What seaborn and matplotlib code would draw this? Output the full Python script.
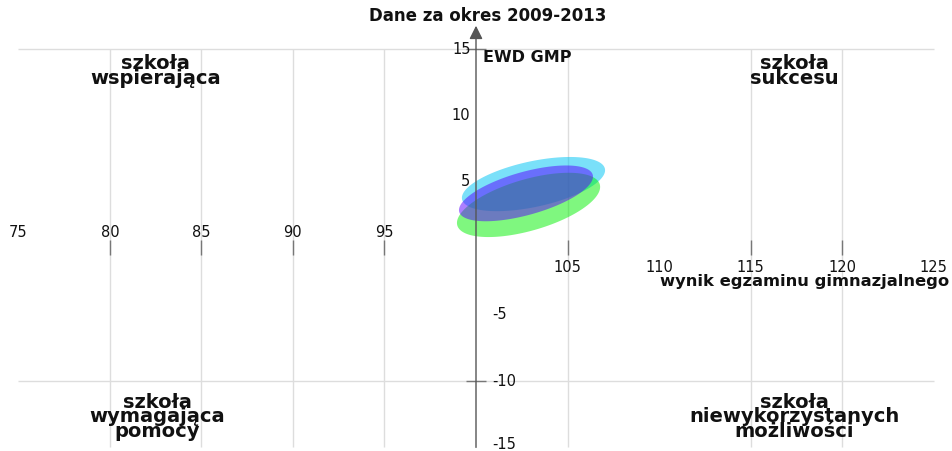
import seaborn as sns
import matplotlib.pyplot as plt
import numpy as np

sns.set_theme(style="white")
plt.rcParams['font.family'] = ['DejaVu Sans']

# axis ticks / labels
x_labels_left = [75, 80, 85, 90, 95]
x_labels_right = [105, 110, 115, 120, 125]
y_labels_pos = [5, 10, 15]
y_labels_neg = [-5, -10, -15]
grid_x = [80, 85, 90, 95, 105, 115, 120]
grid_y = [15, -10]

# ellipses: center, half-width (x), half-height (y), correlation
ell_cx = [103.14, 102.87, 102.73]
ell_cy = [4.83, 3.26, 4.13]
ell_ax = [3.91, 3.91, 3.66]
ell_by = [2.04, 2.42, 2.10]
ell_r = [0.51, 0.56, 0.60]
ell_colors = ["#00c4f4", "#00f000", "#5a00ff"]
ell_alpha = [0.52, 0.5, 0.5]

quadrants = [
    ("szkoła\nwspierająca", 82.5, 14.6),
    ("szkoła\nsukcesu", 117.4, 14.6),
    ("szkoła\nwymagająca\npomocy", 82.6, -10.9),
    ("szkoła\nniewykorzystanych\nmożliwości", 117.4, -10.9),
]

fig = plt.figure(figsize=(9.52, 4.51), dpi=100)
ax = fig.add_axes([0, 0, 1, 1])
ax.set_xlim(74, 126)
ax.set_ylim(-15.27, 18.69)
ax.axis('off')

# grid
ax.vlines(grid_x, -15, 15, color="#dddddd", lw=1, zorder=0)
ax.hlines(grid_y, 75, 125, color="#dddddd", lw=1, zorder=0)

# ticks where grid lines are
ax.vlines(grid_x, -0.5, 0.6, color="#777777", lw=1, zorder=1)
ax.hlines(grid_y, 99.45, 100.55, color="#777777", lw=1, zorder=1)

# y axis with arrow
ax.annotate("", xy=(100, 16.75), xytext=(100, -15),
            arrowprops=dict(arrowstyle="-|>", color="#555555", lw=1,
                            mutation_scale=20, shrinkA=0, shrinkB=0))
# x axis arrow (cut at edge)
ax.annotate("", xy=(126.35, 0.05), xytext=(125.8, 0.05),
            arrowprops=dict(arrowstyle="->", color="#555555", lw=1,
                            mutation_scale=14, shrinkA=0, shrinkB=0))

# ellipses
t = np.linspace(0, 2 * np.pi, 300)
for cx, cy, a, b, r, c, al in zip(ell_cx, ell_cy, ell_ax, ell_by, ell_r,
                                  ell_colors, ell_alpha):
    xs = cx + a * np.cos(t)
    ys = cy + b * (r * np.cos(t) + np.sqrt(1 - r ** 2) * np.sin(t))
    ax.fill(xs, ys, color=c, alpha=al, lw=0, zorder=2)

# tick labels
for v in x_labels_left:
    ax.text(v, 1.22, str(v), ha="center", va="center", fontsize=10.5, color="#111111")
for v in x_labels_right:
    ax.text(v, -1.45, str(v), ha="center", va="center", fontsize=10.5, color="#111111")
for v in y_labels_pos:
    ax.text(99.7, v, str(v), ha="right", va="center", fontsize=10.5, color="#111111")
for v in y_labels_neg:
    yy = max(v, -14.75)
    ax.text(100.9, yy, str(v), ha="left", va="center", fontsize=10.5, color="#111111")

# titles
ax.text(100.66, 17.5, "Dane za okres 2009-2013", ha="center", va="center",
        fontsize=12, fontweight="bold", color="#111111")
ax.text(100.38, 14.36, "EWD GMP", ha="left", va="center",
        fontsize=11.5, fontweight="bold", color="#111111")
ax.text(125.85, -2.5, "wynik egzaminu gimnazjalnego", ha="right", va="center",
        fontsize=11.8, fontweight="bold", color="#111111")

for label, qx, qy in quadrants:
    ax.text(qx, qy, label, ha="center", va="top", fontsize=14,
            fontweight="bold", color="#111111", linespacing=0.7)

fig.savefig("out.png", dpi=100)
